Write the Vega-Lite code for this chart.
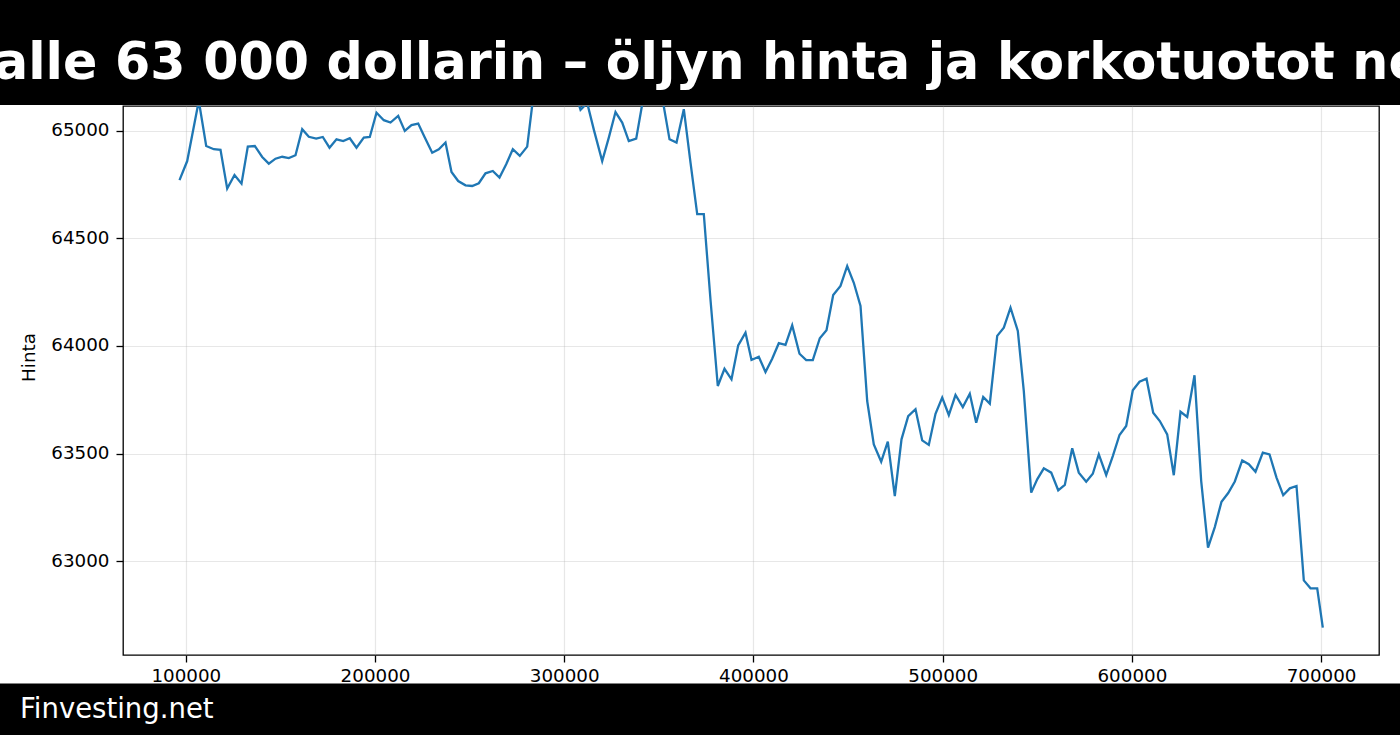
{
  "$schema": "https://vega.github.io/schema/vega-lite/v6.json",
  "background": "white",
  "padding": 0,
  "config": {"view": {"stroke": null}, "font": "DejaVu Sans"},
  "spacing": 0,
  "vconcat": [
    {
      "width": 1400,
      "height": 105,
      "view": {"fill": "black", "stroke": null},
      "data": {"values": [{"title": "alle 63 000 dollarin – öljyn hinta ja korkotuotot ne"}]},
      "mark": {"type": "text", "clip": true, "font": "DejaVu Sans", "fontSize": 50.7, "fontWeight": "bold", "color": "white", "align": "left", "baseline": "alphabetic", "dx": -706, "dy": 26},
      "encoding": {"text": {"field": "title"}}
    },
    {
      "bounds": "flush",
      "spacing": 577.5,
      "vconcat": [
        {
          "spacing": 0,
          "hconcat": [
            {"width": 19, "height": 549, "data": {"values": []}, "mark": "point"},
            {
              "width": 1256,
              "height": 549,
              "view": {"stroke": "black", "strokeWidth": 1.3},
              "data": {"values": [
                {"x":96670,"y":64771},{"x":100740,"y":64860},{"x":106870,"y":65140},{"x":110780,"y":64930},{"x":114800,"y":64915},{"x":118340,"y":64912},{"x":121880,"y":64732},{"x":125740,"y":64795},{"x":129440,"y":64755},{"x":132770,"y":64927},
                {"x":136470,"y":64930},{"x":140380,"y":64879},{"x":143870,"y":64848},{"x":147410,"y":64871},{"x":150950,"y":64880},{"x":154440,"y":64874},{"x":157980,"y":64887},{"x":161520,"y":65008},{"x":165010,"y":64973},{"x":168920,"y":64964},
                {"x":172400,"y":64972},{"x":175950,"y":64922},{"x":179640,"y":64961},{"x":183190,"y":64953},{"x":186670,"y":64966},{"x":190210,"y":64922},{"x":194070,"y":64969},{"x":197240,"y":64972},{"x":200790,"y":65085},{"x":204640,"y":65050},
                {"x":208180,"y":65039},{"x":212250,"y":65070},{"x":215740,"y":65000},{"x":219280,"y":65027},{"x":222820,"y":65034},{"x":226310,"y":64969},{"x":230220,"y":64899},{"x":233710,"y":64915},{"x":237250,"y":64946},{"x":240420,"y":64809},
                {"x":243960,"y":64767},{"x":247820,"y":64747},{"x":251360,"y":64744},{"x":254850,"y":64757},{"x":258390,"y":64803},{"x":262250,"y":64814},{"x":265790,"y":64783},{"x":269330,"y":64845},{"x":272820,"y":64915},{"x":276520,"y":64884},
                {"x":280430,"y":64927},{"x":283920,"y":65180},{"x":287460,"y":65240},{"x":291000,"y":65200},{"x":294490,"y":65290},{"x":298030,"y":65230},{"x":301570,"y":65170},{"x":305060,"y":65200},{"x":308610,"y":65098},{"x":312140,"y":65130},
                {"x":315670,"y":65005},{"x":320070,"y":64860},{"x":323560,"y":64969},{"x":327100,"y":65088},{"x":330640,"y":65039},{"x":334130,"y":64953},{"x":338040,"y":64964},{"x":341530,"y":65140},{"x":345070,"y":65220},{"x":348610,"y":65170},
                {"x":352100,"y":65140},{"x":355640,"y":64961},{"x":359340,"y":64946},{"x":363200,"y":65101},{"x":366740,"y":64853},{"x":370280,"y":64613},{"x":373770,"y":64613},{"x":377310,"y":64214},{"x":381160,"y":63814},{"x":384700,"y":63894},
                {"x":388400,"y":63845},{"x":391940,"y":64003},{"x":395800,"y":64062},{"x":398970,"y":63935},{"x":402830,"y":63950},{"x":406370,"y":63879},{"x":409910,"y":63941},{"x":413400,"y":64013},{"x":416940,"y":64005},{"x":420480,"y":64096},
                {"x":424340,"y":63964},{"x":427880,"y":63934},{"x":431370,"y":63934},{"x":435070,"y":64036},{"x":438610,"y":64073},{"x":442150,"y":64237},{"x":446010,"y":64279},{"x":449550,"y":64372},{"x":453040,"y":64294},{"x":456580,"y":64186},
                {"x":460120,"y":63744},{"x":463610,"y":63542},{"x":467520,"y":63462},{"x":471010,"y":63555},{"x":474710,"y":63302},{"x":478250,"y":63566},{"x":481790,"y":63674},{"x":485650,"y":63706},{"x":489190,"y":63561},{"x":492680,"y":63540},
                {"x":496220,"y":63685},{"x":499760,"y":63760},{"x":503250,"y":63679},{"x":506790,"y":63772},{"x":510650,"y":63716},{"x":514340,"y":63778},{"x":517730,"y":63643},{"x":521430,"y":63763},{"x":524920,"y":63732},{"x":528830,"y":64047},
                {"x":532320,"y":64085},{"x":535860,"y":64178},{"x":539720,"y":64070},{"x":542880,"y":63791},{"x":546800,"y":63318},{"x":549970,"y":63380},{"x":553460,"y":63431},{"x":557370,"y":63411},{"x":561070,"y":63329},{"x":564560,"y":63354},
                {"x":568470,"y":63524},{"x":571950,"y":63411},{"x":575860,"y":63369},{"x":579350,"y":63406},{"x":582520,"y":63496},{"x":586430,"y":63400},{"x":589920,"y":63488},{"x":593460,"y":63586},{"x":597000,"y":63628},{"x":600490,"y":63794},
                {"x":604030,"y":63834},{"x":607730,"y":63848},{"x":611270,"y":63690},{"x":614760,"y":63651},{"x":618670,"y":63589},{"x":622160,"y":63399},{"x":625700,"y":63694},{"x":629240,"y":63670},{"x":633100,"y":63864},{"x":636640,"y":63372},
                {"x":640240,"y":63062},{"x":643830,"y":63158},{"x":647370,"y":63276},{"x":650910,"y":63316},{"x":654400,"y":63370},{"x":658310,"y":63468},{"x":661800,"y":63450},{"x":665340,"y":63415},{"x":669200,"y":63504},{"x":672740,"y":63496},
                {"x":676440,"y":63388},{"x":679980,"y":63306},{"x":683470,"y":63338},{"x":687010,"y":63349},{"x":690870,"y":62910},{"x":694410,"y":62873},{"x":697950,"y":62873},{"x":700910,"y":62690}
              ]},
              "mark": {"type": "line", "color": "#1f77b4", "strokeWidth": 2.3, "clip": true},
              "encoding": {
                "x": {
                  "field": "x", "type": "quantitative",
                  "scale": {"domain": [66810, 730606], "nice": false, "zero": false},
                  "axis": {
                    "title": null, "values": [100000, 200000, 300000, 400000, 500000, 600000, 700000], "format": "d",
                    "labelFont": "DejaVu Sans", "labelFontSize": 18.3, "labelColor": "black", "labelPadding": 5, "labelFlush": false,
                    "tickSize": 7, "tickWidth": 1.3, "tickColor": "black", "domain": false,
                    "grid": true, "gridColor": "#b0b0b0", "gridOpacity": 0.3, "gridWidth": 1.2
                  }
                },
                "y": {
                  "field": "y", "type": "quantitative",
                  "scale": {"domain": [62563, 65116], "nice": false, "zero": false},
                  "axis": {
                    "title": "Hinta", "titleFont": "DejaVu Sans", "titleFontSize": 18.3, "titleFontWeight": "normal", "titleColor": "black", "titlePadding": 12, "titleY": 251,
                    "values": [63000, 63500, 64000, 64500, 65000], "format": "d",
                    "labelFont": "DejaVu Sans", "labelFontSize": 18.3, "labelColor": "black", "labelPadding": 7, "labelFlush": false,
                    "tickSize": 7, "tickWidth": 1.3, "tickColor": "black", "domain": false,
                    "grid": true, "gridColor": "#b0b0b0", "gridOpacity": 0.3, "gridWidth": 1.2
                  }
                }
              }
            }
          ]
        },
        {
          "width": 1400,
          "height": 53,
          "view": {"fill": "black", "stroke": null},
          "data": {"values": [{"site": "Finvesting.net"}]},
          "mark": {"type": "text", "font": "DejaVu Sans", "fontSize": 27.5, "color": "white", "align": "left", "baseline": "alphabetic", "dx": -680, "dy": 8},
          "encoding": {"text": {"field": "site"}}
        }
      ]
    }
  ]
}
